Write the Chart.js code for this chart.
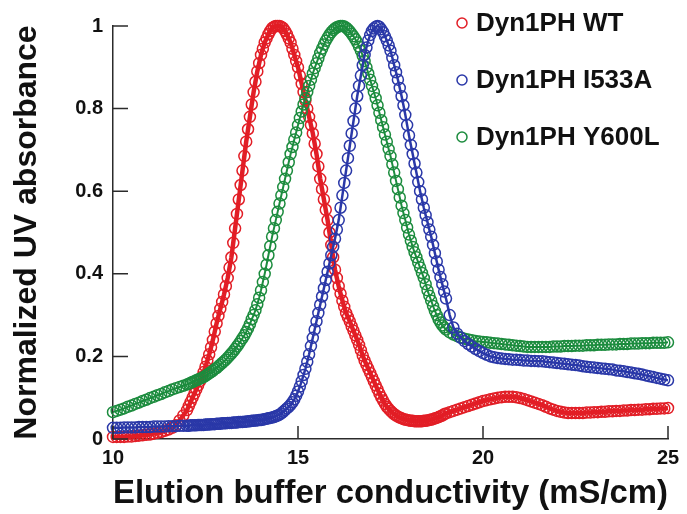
<!DOCTYPE html>
<html>
<head>
<meta charset="utf-8">
<script src="https://cdn.jsdelivr.net/npm/chart.js@4.4.1/dist/chart.umd.min.js"></script>
<style>
  html, body { margin: 0; padding: 0; background: #fff; }
  #wrap { width: 687px; height: 514px; position: relative; }
</style>
</head>
<body>
<div id="wrap"><canvas id="elutionChart"></canvas></div>
<script>
// conductivity (mS/cm) - sampled finer across the peaks
const xLow = [10, 10.1, 10.2, 10.3, 10.4, 10.5, 10.6, 10.7, 10.8, 10.9,
  11, 11.1, 11.2, 11.3, 11.4, 11.5, 11.6, 11.7, 11.8, 11.9];
const xPeak = [
  12, 12.05, 12.1, 12.15, 12.2, 12.25, 12.3, 12.35, 12.4, 12.45,
  12.5, 12.55, 12.6, 12.65, 12.7, 12.75, 12.8, 12.85, 12.9, 12.95,
  13, 13.05, 13.1, 13.15, 13.2, 13.25, 13.3, 13.35, 13.4, 13.45,
  13.5, 13.55, 13.6, 13.65, 13.7, 13.75, 13.8, 13.85, 13.9, 13.95,
  14, 14.05, 14.1, 14.15, 14.2, 14.25, 14.3, 14.35, 14.4, 14.45,
  14.5, 14.55, 14.6, 14.65, 14.7, 14.75, 14.8, 14.85, 14.9, 14.95,
  15, 15.05, 15.1, 15.15, 15.2, 15.25, 15.3, 15.35, 15.4, 15.45,
  15.5, 15.55, 15.6, 15.65, 15.7, 15.75, 15.8, 15.85, 15.9, 15.95,
  16, 16.05, 16.1, 16.15, 16.2, 16.25, 16.3, 16.35, 16.4, 16.45,
  16.5, 16.55, 16.6, 16.65, 16.7, 16.75, 16.8, 16.85, 16.9, 16.95,
  17, 17.05, 17.1, 17.15, 17.2, 17.25, 17.3, 17.35, 17.4, 17.45,
  17.5, 17.55, 17.6, 17.65, 17.7, 17.75, 17.8, 17.85, 17.9, 17.95,
  18, 18.05, 18.1, 18.15, 18.2, 18.25, 18.3, 18.35, 18.4, 18.45,
  18.5, 18.55, 18.6, 18.65, 18.7, 18.75, 18.8, 18.85, 18.9, 18.95];
const xHigh = [
  19, 19.1, 19.2, 19.3, 19.4, 19.5, 19.6, 19.7, 19.8, 19.9,
  20, 20.1, 20.2, 20.3, 20.4, 20.5, 20.6, 20.7, 20.8, 20.9,
  21, 21.1, 21.2, 21.3, 21.4, 21.5, 21.6, 21.7, 21.8, 21.9,
  22, 22.1, 22.2, 22.3, 22.4, 22.5, 22.6, 22.7, 22.8, 22.9,
  23, 23.1, 23.2, 23.3, 23.4, 23.5, 23.6, 23.7, 23.8, 23.9,
  24, 24.1, 24.2, 24.3, 24.4, 24.5, 24.6, 24.7, 24.8, 24.9, 25];

// Dyn1PH WT
const wtLow = [0.005, 0.005, 0.005, 0.005, 0.006, 0.006, 0.007, 0.008, 0.009, 0.01,
  0.011, 0.013, 0.015, 0.017, 0.02, 0.023, 0.027, 0.033, 0.045, 0.057];
const wtPeak = [
  0.07, 0.08, 0.09, 0.10, 0.11, 0.12, 0.13, 0.14, 0.15, 0.162,
  0.175, 0.19, 0.205, 0.222, 0.24, 0.26, 0.28, 0.298, 0.315, 0.332,
  0.35, 0.37, 0.39, 0.415, 0.44, 0.475, 0.51, 0.545, 0.58, 0.615,
  0.65, 0.685, 0.72, 0.75, 0.78, 0.81, 0.84, 0.865, 0.89, 0.91,
  0.93, 0.945, 0.96, 0.97, 0.98, 0.988, 0.995, 0.998, 1.0, 1.0,
  1.0, 0.998, 0.995, 0.988, 0.98, 0.97, 0.96, 0.945, 0.93, 0.915,
  0.90, 0.88, 0.86, 0.84, 0.82, 0.80, 0.78, 0.76, 0.74, 0.715,
  0.69, 0.66, 0.63, 0.605, 0.58, 0.555, 0.53, 0.50, 0.47, 0.44,
  0.41, 0.39, 0.37, 0.352, 0.335, 0.32, 0.305, 0.295, 0.285, 0.273,
  0.262, 0.251, 0.24, 0.228, 0.215, 0.202, 0.19, 0.18, 0.17, 0.16,
  0.15, 0.14, 0.13, 0.12, 0.11, 0.101, 0.093, 0.085, 0.078, 0.073,
  0.068, 0.064, 0.06, 0.057, 0.054, 0.052, 0.05, 0.048, 0.047, 0.046,
  0.045, 0.044, 0.044, 0.043, 0.043, 0.043, 0.043, 0.043, 0.044, 0.044,
  0.045, 0.046, 0.047, 0.048, 0.05, 0.051, 0.053, 0.055, 0.057, 0.06];
const wtHigh = [
  0.062, 0.065, 0.068, 0.071, 0.074, 0.077, 0.08, 0.083, 0.086, 0.089,
  0.092, 0.094, 0.096, 0.098, 0.10, 0.101, 0.102, 0.102, 0.102, 0.101,
  0.099, 0.097, 0.094, 0.091, 0.088, 0.085, 0.082, 0.078, 0.074, 0.071,
  0.068, 0.066, 0.064, 0.063, 0.063, 0.063, 0.063, 0.063, 0.064, 0.064,
  0.065, 0.065, 0.066, 0.066, 0.067, 0.067, 0.068, 0.068, 0.069, 0.069,
  0.07, 0.07, 0.071, 0.071, 0.072, 0.072, 0.073, 0.073, 0.074, 0.074, 0.075];

// Dyn1PH I533A
const i533aLow = [0.027, 0.027, 0.027, 0.028, 0.028, 0.028, 0.028, 0.029, 0.029, 0.029,
  0.029, 0.03, 0.03, 0.03, 0.03, 0.031, 0.031, 0.031, 0.032, 0.032];
const i533aPeak = [
  0.032, 0.032, 0.033, 0.033, 0.033, 0.033, 0.034, 0.034, 0.034, 0.034,
  0.035, 0.035, 0.035, 0.036, 0.036, 0.036, 0.037, 0.037, 0.037, 0.038,
  0.038, 0.038, 0.039, 0.039, 0.039, 0.04, 0.04, 0.04, 0.041, 0.041,
  0.041, 0.042, 0.042, 0.043, 0.043, 0.044, 0.044, 0.045, 0.045, 0.046,
  0.046, 0.047, 0.048, 0.049, 0.05, 0.051, 0.052, 0.053, 0.055, 0.057,
  0.059, 0.062, 0.066, 0.07, 0.074, 0.078, 0.083, 0.089, 0.096, 0.105,
  0.115, 0.127, 0.14, 0.155, 0.17, 0.187, 0.205, 0.225, 0.245, 0.265,
  0.285, 0.305, 0.325, 0.345, 0.365, 0.385, 0.405, 0.425, 0.445, 0.465,
  0.485, 0.507, 0.53, 0.56, 0.59, 0.62, 0.65, 0.68, 0.71, 0.74,
  0.77, 0.80, 0.83, 0.855, 0.88, 0.905, 0.93, 0.948, 0.965, 0.978,
  0.988, 0.994, 0.998, 1.0, 0.998, 0.992, 0.985, 0.975, 0.965, 0.953,
  0.94, 0.923, 0.905, 0.888, 0.87, 0.85, 0.83, 0.808, 0.785, 0.76,
  0.735, 0.712, 0.69, 0.667, 0.645, 0.622, 0.60, 0.58, 0.56, 0.542,
  0.525, 0.507, 0.49, 0.47, 0.45, 0.43, 0.41, 0.392, 0.375, 0.357];
const i533aHigh = [
  0.34, 0.30, 0.27, 0.255, 0.245, 0.237, 0.23, 0.224, 0.218, 0.213,
  0.208, 0.204, 0.20, 0.198, 0.196, 0.195, 0.194, 0.193, 0.192, 0.192,
  0.191, 0.19, 0.19, 0.189, 0.189, 0.188, 0.188, 0.187, 0.186, 0.185,
  0.184, 0.183, 0.182, 0.181, 0.18, 0.179, 0.178, 0.176, 0.175, 0.174,
  0.173, 0.172, 0.171, 0.17, 0.169, 0.168, 0.166, 0.165, 0.164, 0.162,
  0.161, 0.159, 0.158, 0.156, 0.154, 0.152, 0.15, 0.148, 0.146, 0.144, 0.142];

// Dyn1PH Y600L
const y600lLow = [0.065, 0.068, 0.071, 0.074, 0.078, 0.081, 0.085, 0.088, 0.092, 0.095,
  0.099, 0.102, 0.106, 0.109, 0.113, 0.116, 0.12, 0.123, 0.126, 0.129];
const y600lPeak = [
  0.132, 0.134, 0.136, 0.138, 0.14, 0.142, 0.144, 0.146, 0.148, 0.15,
  0.153, 0.156, 0.159, 0.162, 0.165, 0.169, 0.172, 0.176, 0.18, 0.184,
  0.188, 0.192, 0.197, 0.202, 0.207, 0.212, 0.218, 0.224, 0.23, 0.237,
  0.244, 0.251, 0.259, 0.268, 0.278, 0.29, 0.30, 0.312, 0.326, 0.342,
  0.36, 0.38, 0.40, 0.422, 0.445, 0.467, 0.49, 0.51, 0.53, 0.55,
  0.57, 0.59, 0.61, 0.63, 0.65, 0.67, 0.69, 0.707, 0.725, 0.742,
  0.76, 0.777, 0.793, 0.81, 0.825, 0.84, 0.855, 0.87, 0.885, 0.898,
  0.91, 0.922, 0.935, 0.945, 0.955, 0.964, 0.972, 0.979, 0.985, 0.99,
  0.994, 0.997, 0.999, 1.0, 1.0, 0.999, 0.996, 0.992, 0.987, 0.981,
  0.975, 0.968, 0.96, 0.95, 0.94, 0.928, 0.915, 0.9, 0.885, 0.87,
  0.855, 0.84, 0.825, 0.808, 0.79, 0.772, 0.755, 0.737, 0.72, 0.702,
  0.685, 0.665, 0.645, 0.625, 0.605, 0.585, 0.565, 0.547, 0.53, 0.512,
  0.495, 0.48, 0.465, 0.452, 0.44, 0.427, 0.415, 0.402, 0.39, 0.375,
  0.36, 0.347, 0.335, 0.322, 0.31, 0.30, 0.29, 0.282, 0.275, 0.27];
const y600lHigh = [
  0.265, 0.258, 0.253, 0.249, 0.246, 0.243, 0.241, 0.239, 0.237, 0.236,
  0.235, 0.234, 0.233, 0.232, 0.231, 0.23, 0.229, 0.228, 0.227, 0.226,
  0.225, 0.224, 0.223, 0.223, 0.223, 0.223, 0.223, 0.223, 0.223, 0.224,
  0.224, 0.224, 0.225, 0.225, 0.225, 0.226, 0.226, 0.226, 0.227, 0.227,
  0.227, 0.228, 0.228, 0.228, 0.229, 0.229, 0.229, 0.23, 0.23, 0.23,
  0.231, 0.231, 0.231, 0.232, 0.232, 0.232, 0.233, 0.233, 0.233, 0.233, 0.234];

const seriesNames = ['Dyn1PH WT', 'Dyn1PH I533A', 'Dyn1PH Y600L'];
const seriesColors = ['rgb(226, 30, 38)', 'rgb(42, 56, 168)', 'rgb(28, 140, 62)'];
const axisColor = '#2b2b2b';
const fontFamily = '"Liberation Sans", Arial, Helvetica, sans-serif';

const conductivity = xLow.concat(xPeak, xHigh);
const wt = wtLow.concat(wtPeak, wtHigh);
const i533a = i533aLow.concat(i533aPeak, i533aHigh);
const y600l = y600lLow.concat(y600lPeak, y600lHigh);

function toPoints(values) {
  return values.map((v, i) => ({ x: conductivity[i], y: v }));
}

// circles with a line through their centres
function circleSet(i, values, order, lineWidth) {
  return {
    label: seriesNames[i],
    data: toPoints(values),
    borderColor: seriesColors[i],
    backgroundColor: 'rgba(0,0,0,0)',
    borderWidth: lineWidth,
    pointStyle: 'circle',
    pointRadius: 5.5,
    pointBorderWidth: 1.5,
    showLine: true,
    tension: 0,
    clip: false,
    order: order
  };
}

// tick marks point into the plot, like the original
const innerTicks = {
  id: 'innerTicks',
  afterDraw(chart) {
    const ctx = chart.ctx;
    const xs = chart.scales.x, ys = chart.scales.y;
    const area = chart.chartArea;
    ctx.save();
    ctx.strokeStyle = axisColor;
    ctx.lineWidth = 1.5;
    ctx.beginPath();
    xs.ticks.forEach(t => {
      const px = xs.getPixelForValue(t.value);
      ctx.moveTo(px, area.bottom);
      ctx.lineTo(px, area.bottom - 13);
    });
    ys.ticks.forEach(t => {
      const py = ys.getPixelForValue(t.value);
      ctx.moveTo(area.left, py);
      ctx.lineTo(area.left + 15, py);
    });
    ctx.stroke();
    ctx.restore();
  }
};

// legend sits inside the plot, top right
const cornerLegend = {
  id: 'cornerLegend',
  afterDraw(chart) {
    const ctx = chart.ctx;
    ctx.save();
    ctx.font = 'bold 26px ' + fontFamily;
    ctx.textBaseline = 'middle';
    seriesNames.forEach((name, i) => {
      const y = 23 + i * 57;
      ctx.beginPath();
      ctx.arc(462, y, 5, 0, Math.PI * 2);
      ctx.strokeStyle = seriesColors[i];
      ctx.lineWidth = 1.5;
      ctx.stroke();
      ctx.fillStyle = '#111';
      ctx.fillText(name, 476, y + 1);
    });
    ctx.restore();
  }
};

new Chart(document.getElementById('elutionChart').getContext('2d'), {
  type: 'scatter',
  data: {
    datasets: [
      circleSet(0, wt, 2, 4.5),
      circleSet(1, i533a, 0, 2.5),
      circleSet(2, y600l, 1, 2)
    ]
  },
  options: {
    responsive: true,
    maintainAspectRatio: false,
    animation: false,
    layout: { padding: { left: 0, top: 26, right: 19, bottom: 0 } },
    plugins: {
      legend: { display: false },
      tooltip: { enabled: false }
    },
    scales: {
      x: {
        type: 'linear',
        min: 10,
        max: 25,
        afterFit(scale) { scale.height = 75; },
        grid: { display: false, drawTicks: false },
        border: { display: true, color: axisColor, width: 1.5 },
        ticks: {
          stepSize: 5,
          maxRotation: 0,
          padding: 7,
          color: '#111',
          font: { family: fontFamily, size: 20, weight: 'bold' }
        },
        title: {
          display: true,
          text: 'Elution buffer conductivity (mS/cm)',
          color: '#111',
          padding: { top: 0, bottom: 3 },
          font: { family: fontFamily, size: 34, weight: 'bold', lineHeight: 1 }
        }
      },
      y: {
        min: 0,
        max: 1,
        afterFit(scale) { scale.width = 113; },
        grid: { display: false, drawTicks: false },
        border: { display: true, color: axisColor, width: 1.5 },
        ticks: {
          stepSize: 0.2,
          padding: 10,
          color: '#111',
          font: { family: fontFamily, size: 20, weight: 'bold' },
          callback: v => String(Number(v.toFixed(1)))
        },
        title: {
          display: true,
          text: 'Normalized UV absorbance',
          color: '#111',
          padding: { top: 11, bottom: 0 },
          font: { family: fontFamily, size: 32, weight: 'bold', lineHeight: 1 }
        }
      }
    }
  },
  plugins: [innerTicks, cornerLegend]
});
</script>
</body>
</html>
